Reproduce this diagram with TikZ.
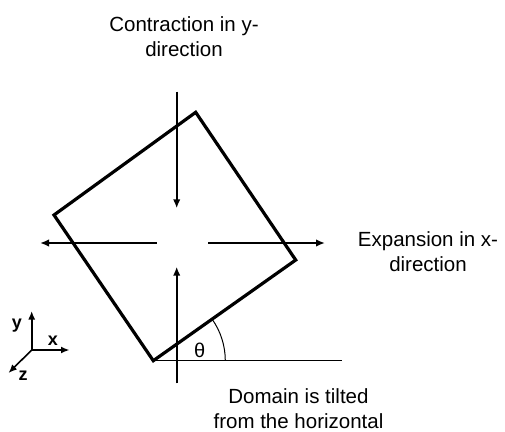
\documentclass[tikz,border=0pt]{standalone}
\usepackage{fontspec}
\setmainfont{Liberation Sans}
\usetikzlibrary{arrows.meta}
\begin{document}
\begin{tikzpicture}[x=1pt,y=1pt,
  txtlabel/.style={align=center,font=\fontsize{20.5}{25}\selectfont,inner sep=0pt},
  axlabel/.style={font=\fontsize{18}{20}\selectfont\bfseries,inner sep=0pt,anchor=base},
  domainbox/.style={line width=3.2pt,line join=miter},
  flow/.style={line width=1.8pt,-{Latex[length=9pt,width=7.5pt]}},
  axisarrow/.style={line width=1.6pt,-{Latex[length=8.5pt,width=7pt]}}]
\useasboundingbox (0,0) rectangle (505,-431);
% domain square
\coordinate (T) at (195.7,-112.3);
\coordinate (R) at (295.7,-260);
\coordinate (B) at (153.3,-360.7);
\coordinate (L) at (54,-215);
\draw[domainbox] (T) -- (R) -- (B) -- (L) -- cycle;
% flow arrows
\coordinate (vt0) at (176.7,-91.7);
\coordinate (vt1) at (176.7,-208.3);
\coordinate (vb0) at (176.7,-383.3);
\coordinate (vb1) at (176.7,-266.7);
\coordinate (hl0) at (156.7,-243);
\coordinate (hl1) at (40,-243);
\coordinate (hr0) at (208.3,-243);
\coordinate (hr1) at (325,-243);
\draw[flow] (vt0) -- (vt1);
\draw[flow] (vb0) -- (vb1);
\draw[flow] (hl0) -- (hl1);
\draw[flow] (hr0) -- (hr1);
% horizontal reference and angle
\coordinate (H) at (341.7,-360.7);
\draw[line width=1.5pt] (B) -- (H);
\draw[line width=1pt] ([xshift=72pt]B) arc[start angle=0,end angle=35.3,radius=72pt];
\node[inner sep=0pt,font=\fontsize{20}{24}\selectfont] (theta) at (199.7,-350.3) {θ};
% axis triad
\coordinate (O) at (31.7,-350);
\coordinate (Oy) at (31.7,-311);
\coordinate (Ox) at (69.5,-350);
\coordinate (Oz) at (8.5,-373);
\draw[axisarrow] (O) -- (Oy);
\draw[axisarrow] (O) -- (Ox);
\draw[axisarrow] (O) -- (Oz);
\node[axlabel] (ly) at (17,-328.5) {y};
\node[axlabel] (lx) at (53,-345) {x};
\node[axlabel] (lz) at (23,-380.7) {z};
% labels
\node[txtlabel] (contr) at (184,-37) {Contraction in y-\\direction};
\node[txtlabel] (expan) at (428,-252) {Expansion in x-\\direction};
\node[txtlabel] (tilt) at (298.5,-408.5) {Domain is tilted\\from the horizontal};
\end{tikzpicture}
\end{document}
